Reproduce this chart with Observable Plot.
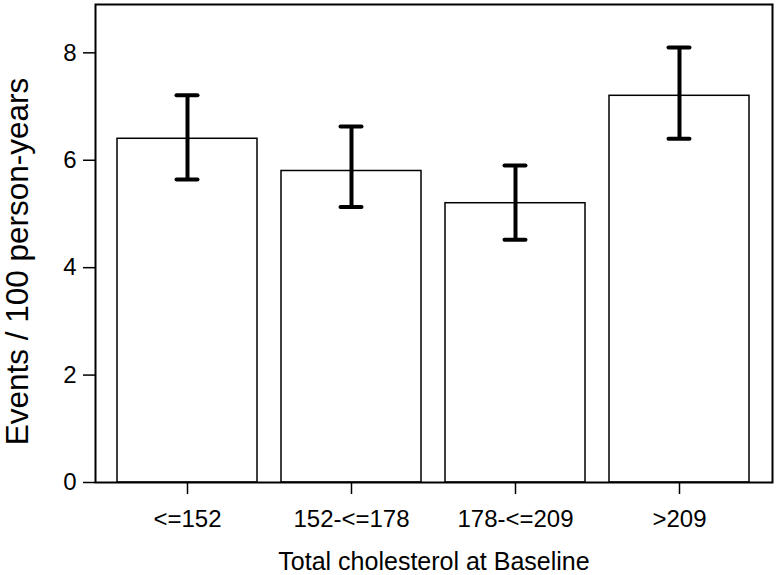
<!DOCTYPE html>
<html>
<head>
<meta charset="utf-8">
<script src="https://cdn.jsdelivr.net/npm/d3@7"></script>
<script src="https://cdn.jsdelivr.net/npm/@observablehq/plot@0.6"></script>
<style>
  html, body { margin: 0; padding: 0; background: #fff; }
  #chart svg { display: block; }
</style>
</head>
<body>
<div id="chart"></div>
<script>
const categories = ["<=152", "152-<=178", "178-<=209", ">209"];
const rates = [6.4, 5.8, 5.2, 7.2];
const lower = [5.64, 5.13, 4.52, 6.4];
const upper = [7.21, 6.63, 5.9, 8.1];
const yTicks = [0, 2, 4, 6, 8];
const xTitle = "Total cholesterol at Baseline";
const yTitle = "Events / 100 person-years";

const data = categories.map((c, i) => ({cat: c, rate: rates[i], lo: lower[i], hi: upper[i]}));
const font = "'Liberation Sans', Arial, Helvetica, sans-serif";

const chart = Plot.plot({
  width: 777,
  height: 575,
  marginLeft: 95,
  marginRight: 5,
  marginTop: 4,
  marginBottom: 93,
  style: {fontFamily: font, background: "#fff", color: "#000"},
  x: {domain: categories, paddingInner: 0.146, paddingOuter: 0.127, label: null},
  y: {domain: [0, 8.9], label: null},
  marks: [
    Plot.barY(data, {x: "cat", y: "rate", fill: "white", stroke: "black", strokeWidth: 1.5}),
    Plot.ruleX(data, {x: "cat", y1: "lo", y2: "hi", stroke: "black", strokeWidth: 4}),
    Plot.tickY(data, {x: "cat", y: "lo", stroke: "black", strokeWidth: 4, strokeLinecap: "round", insetLeft: 59.5, insetRight: 59.5}),
    Plot.tickY(data, {x: "cat", y: "hi", stroke: "black", strokeWidth: 4, strokeLinecap: "round", insetLeft: 59.5, insetRight: 59.5}),
    Plot.frame({stroke: "black", strokeWidth: 2}),
    Plot.axisY({ticks: yTicks, tickSize: 12, tickPadding: 7, fontSize: 24, label: null, stroke: "black", strokeWidth: 1.5}),
    Plot.axisX({tickSize: 12, tickPadding: 15, fontSize: 24, label: null, stroke: "black", strokeWidth: 1.5}),
    Plot.text([xTitle], {frameAnchor: "bottom", textAnchor: "middle", lineAnchor: "top", dy: 70, fontSize: 25, fill: "black"}),
    Plot.text([yTitle], {frameAnchor: "left", textAnchor: "middle", lineAnchor: "middle", rotate: -90, dx: -78, dy: 18, fontSize: 31.5, fill: "black"})
  ]
});
document.getElementById("chart").appendChild(chart);
</script>
</body>
</html>
